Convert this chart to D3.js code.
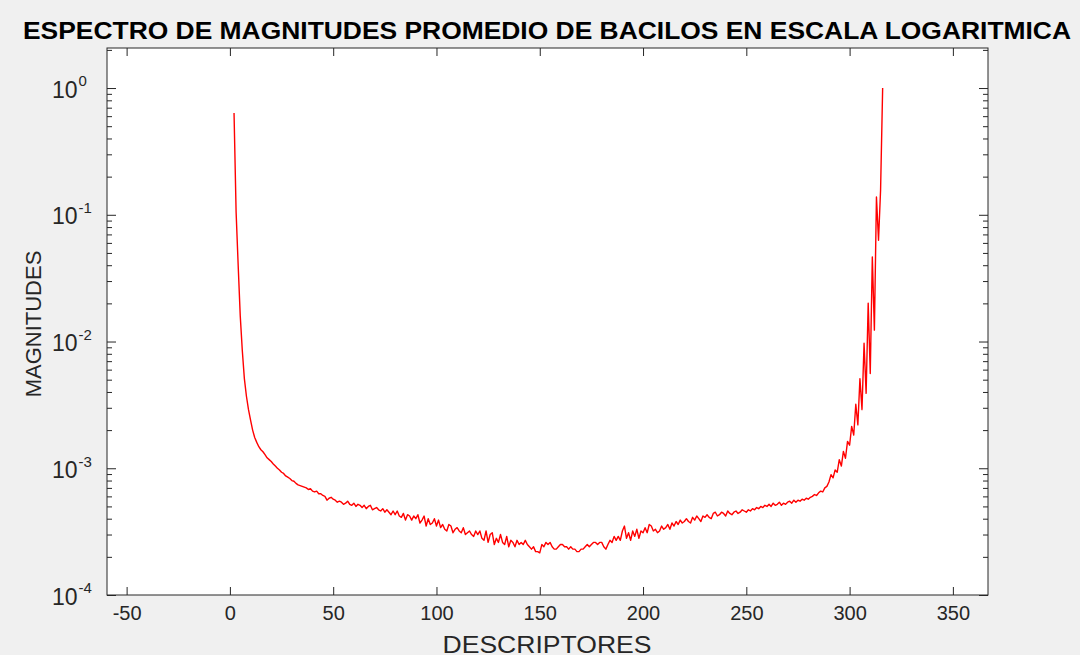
<!DOCTYPE html>
<html>
<head>
<meta charset="utf-8">
<script src="https://cdn.jsdelivr.net/npm/d3@7"></script>
<style>
  html, body { margin: 0; padding: 0; background: #f0f0f0; }
  svg { display: block; font-family: "Liberation Sans", Arial, sans-serif; }
</style>
</head>
<body>
<svg id="chart" width="1080" height="655"></svg>
<script>
// first descriptor index shown in the plot
const firstDescriptor = 2;

// average magnitude for descriptors 2..316
const magnitudes = [
  // 2-10
  0.635, 0.105, 0.040, 0.0160, 0.0085, 0.0051, 0.0037, 0.0029, 0.0024,
  // 11-20
  0.0020, 0.00175, 0.00160, 0.00148, 0.00140, 0.00135, 0.00128, 0.00121, 0.00117, 0.00113,
  // 21-30
  0.00108, 0.00104, 0.00100, 0.00097, 0.00093, 0.00091, 0.00087, 0.00085, 0.00083, 0.00080,
  // 31-40
  0.00079, 0.00076, 0.00074, 0.00073, 0.00072, 0.00071, 0.00070, 0.00068, 0.00069, 0.00066,
  // 41-50
  0.00065, 0.00066, 0.00063, 0.00063, 0.00061, 0.00060, 0.00056, 0.00058, 0.00059, 0.00057,
  // 51-60
  0.00056, 0.00054, 0.00055, 0.00054, 0.00052, 0.00053, 0.00055, 0.00052, 0.00051, 0.00053,
  // 61-70
  0.00050, 0.00052, 0.00051, 0.00049, 0.00051, 0.00048, 0.00050, 0.00051, 0.00047, 0.00048,
  // 71-80
  0.00049, 0.00047, 0.00046, 0.00048, 0.00045, 0.00047, 0.00045, 0.00043, 0.00046, 0.00043,
  // 81-90
  0.00046, 0.00042, 0.00041, 0.00044, 0.00039, 0.00043, 0.00042, 0.00039, 0.00042, 0.00040,
  // 91-100
  0.00043, 0.00037, 0.00039, 0.00042, 0.00035, 0.00040, 0.00036, 0.00037, 0.00040, 0.00035,
  // 101-110
  0.00039, 0.00034, 0.00036, 0.00033, 0.00032, 0.00036, 0.00035, 0.00031, 0.00033, 0.00034,
  // 111-120
  0.00032, 0.00031, 0.00034, 0.00030, 0.00031, 0.00032, 0.00030, 0.00029, 0.00032, 0.00030,
  // 121-130
  0.00032, 0.00028, 0.00027, 0.00032, 0.00026, 0.00030, 0.00031, 0.00025, 0.00028, 0.00026,
  // 131-140
  0.00030, 0.00026, 0.00025, 0.00029, 0.00024, 0.00027, 0.00026, 0.00024, 0.00027, 0.00025,
  // 141-150
  0.00026, 0.00025, 0.00027, 0.00025, 0.00024, 0.00023, 0.00024, 0.00022, 0.00022, 0.000215,
  // 151-160
  0.00025, 0.00024, 0.00026, 0.00025, 0.00026, 0.00024, 0.00023, 0.00023, 0.00024, 0.00025,
  // 161-170
  0.00025, 0.00024, 0.00024, 0.00023, 0.00024, 0.00023, 0.00023, 0.00022, 0.00022, 0.00023,
  // 171-180
  0.00023, 0.00024, 0.00025, 0.00024, 0.00025, 0.00026, 0.00026, 0.00025, 0.00026, 0.00026,
  // 181-190
  0.00024, 0.00023, 0.00025, 0.00027, 0.00026, 0.00029, 0.00027, 0.00029, 0.00027, 0.00032,
  // 191-200
  0.00035, 0.00028, 0.00031, 0.00027, 0.00032, 0.00029, 0.00033, 0.00028, 0.00032, 0.00031,
  // 201-210
  0.00034, 0.00031, 0.00036, 0.00035, 0.00032, 0.00033, 0.00031, 0.00032, 0.00035, 0.00033,
  // 211-220
  0.00034, 0.00036, 0.00033, 0.00037, 0.00035, 0.00038, 0.00036, 0.00039, 0.00037, 0.00038,
  // 221-230
  0.00040, 0.00038, 0.00037, 0.00041, 0.00039, 0.00042, 0.00040, 0.00038, 0.00042, 0.00041,
  // 231-240
  0.00043, 0.00041, 0.00040, 0.00044, 0.00045, 0.00042, 0.00043, 0.00045, 0.00044, 0.00042,
  // 241-250
  0.00046, 0.00044, 0.00043, 0.00045, 0.00046, 0.00044, 0.00045, 0.00047, 0.00046, 0.00045,
  // 251-260
  0.00047, 0.00046, 0.00048, 0.00047, 0.00049, 0.00048, 0.00050, 0.00049, 0.00051, 0.00050,
  // 261-270
  0.00052, 0.00050, 0.00053, 0.00051, 0.00052, 0.00054, 0.00051, 0.00053, 0.00052, 0.00054,
  // 271-280
  0.00055, 0.00053, 0.00056, 0.00054, 0.00056, 0.00055, 0.00057, 0.00056, 0.00058, 0.00057,
  // 281-290
  0.00059, 0.00060, 0.00062, 0.00061, 0.00064, 0.00066, 0.00065, 0.00070, 0.00072, 0.00078,
  // 291-300
  0.00089, 0.00084, 0.00097, 0.00093, 0.00117, 0.00104, 0.00136, 0.00120, 0.00163, 0.00152,
  // 301-316
  0.00214, 0.00183, 0.0032, 0.0022, 0.0051, 0.0029, 0.0097, 0.0039, 0.0201, 0.0056,
  0.0465, 0.0123, 0.138, 0.063, 0.157, 1.0
];

const xTicks = [-50, 0, 50, 100, 150, 200, 250, 300, 350];
const yExponents = [0, -1, -2, -3, -4];
const minorMultipliers = [2, 3, 4, 5, 6, 7, 8, 9];

const titleText = "ESPECTRO DE MAGNITUDES PROMEDIO DE BACILOS EN ESCALA LOGARITMICA";
const xLabelText = "DESCRIPTORES";
const yLabelText = "MAGNITUDES";

const plotLeft = 107, plotRight = 988, plotTop = 48, plotBottom = 595;
const axisColor = "#262626";
const fontStack = "'Liberation Sans', Arial, sans-serif";

const svg = d3.select("#chart");

const x = d3.scaleLinear().domain([-59.5, 367]).range([plotLeft, plotRight]);
const y = d3.scaleLog().domain([1e-4, 2.07]).range([plotBottom, plotTop]);

const points = magnitudes.map((m, i) => ({ d: firstDescriptor + i, m: m }));

// plot background
svg.append("rect")
  .attr("x", plotLeft).attr("y", plotTop)
  .attr("width", plotRight - plotLeft).attr("height", plotBottom - plotTop)
  .attr("fill", "#fff");

svg.append("clipPath").attr("id", "plotclip")
  .append("rect")
  .attr("x", plotLeft).attr("y", plotTop)
  .attr("width", plotRight - plotLeft).attr("height", plotBottom - plotTop);

// the spectrum
svg.append("path")
  .datum(points)
  .attr("clip-path", "url(#plotclip)")
  .attr("fill", "none")
  .attr("stroke", "#ff0000")
  .attr("stroke-width", 1.4)
  .attr("stroke-linejoin", "round")
  .attr("d", d3.line().x(p => x(p.d)).y(p => y(p.m)));

// x axes (bottom with labels, top mirrored)
const xb = svg.append("g")
  .attr("transform", `translate(0,${plotBottom})`)
  .call(d3.axisBottom(x).tickValues(xTicks).tickFormat(d => String(d))
    .tickSizeInner(-8).tickSizeOuter(0).tickPadding(11));
svg.append("g")
  .attr("transform", `translate(0,${plotTop})`)
  .call(d3.axisTop(x).tickValues(xTicks).tickSizeInner(-8).tickSizeOuter(0).tickFormat(""));

const majorY = yExponents.map(e => Math.pow(10, e));
const minorY = [];
yExponents.forEach(e => {
  minorMultipliers.forEach(k => {
    const v = k * Math.pow(10, e);
    if (v <= y.domain()[1]) minorY.push(v);
  });
});

const yl = svg.append("g")
  .attr("transform", `translate(${plotLeft},0)`)
  .call(d3.axisLeft(y).tickValues(majorY).tickSizeInner(-9).tickSizeOuter(0).tickPadding(15));
svg.append("g")
  .attr("transform", `translate(${plotRight},0)`)
  .call(d3.axisRight(y).tickValues(majorY).tickSizeInner(-9).tickSizeOuter(0).tickFormat(""));
svg.append("g")
  .attr("transform", `translate(${plotLeft},0)`)
  .call(d3.axisLeft(y).tickValues(minorY).tickSizeInner(-5).tickSizeOuter(0).tickFormat(""));
svg.append("g")
  .attr("transform", `translate(${plotRight},0)`)
  .call(d3.axisRight(y).tickValues(minorY).tickSizeInner(-5).tickSizeOuter(0).tickFormat(""));

svg.selectAll(".domain").remove();
svg.selectAll(".tick line").attr("stroke", axisColor);

xb.selectAll("text")
  .attr("fill", axisColor)
  .attr("font-size", 20)
  .attr("font-family", fontStack);

// 10^n labels, base starts at a common left edge
yl.selectAll(".tick text").each(function(v) {
  const t = d3.select(this);
  const e = Math.round(Math.log10(v));
  t.text(null)
    .attr("fill", axisColor)
    .attr("font-size", 23)
    .attr("font-family", fontStack)
    .attr("text-anchor", "start")
    .attr("x", 52 - plotLeft)
    .attr("dy", "0.4em");
  t.append("tspan").text("10");
  t.append("tspan").attr("font-size", 15).attr("dx", 1).attr("dy", "-0.75em").text(e);
});

// frame
svg.append("rect")
  .attr("x", plotLeft).attr("y", plotTop)
  .attr("width", plotRight - plotLeft).attr("height", plotBottom - plotTop)
  .attr("fill", "none")
  .attr("stroke", axisColor)
  .attr("stroke-width", 1);

svg.append("text")
  .attr("x", 547).attr("y", 39)
  .attr("text-anchor", "middle")
  .attr("font-weight", "bold")
  .attr("font-size", 23)
  .attr("fill", "#000")
  .attr("textLength", 1048)
  .attr("lengthAdjust", "spacingAndGlyphs")
  .text(titleText);

svg.append("text")
  .attr("x", 547).attr("y", 653)
  .attr("text-anchor", "middle")
  .attr("font-size", 24)
  .attr("fill", axisColor)
  .attr("textLength", 209)
  .attr("lengthAdjust", "spacingAndGlyphs")
  .text(xLabelText);

svg.append("text")
  .attr("transform", "translate(41,324) rotate(-90)")
  .attr("text-anchor", "middle")
  .attr("font-size", 22)
  .attr("fill", axisColor)
  .text(yLabelText);
</script>
</body>
</html>
